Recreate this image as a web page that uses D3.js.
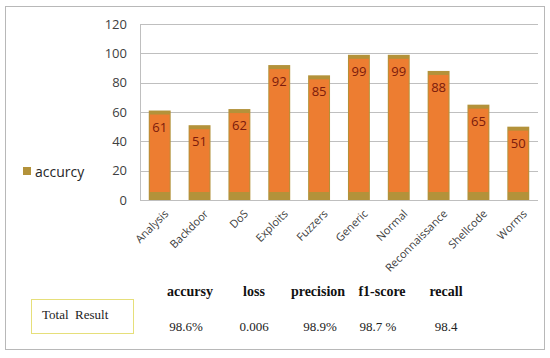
<!DOCTYPE html>
<html>
<head>
<meta charset="utf-8">
<script src="https://cdn.jsdelivr.net/npm/d3@7"></script>
<style>
  body { margin: 0; background: #fff; }
  svg { display: block; }
</style>
</head>
<body>
<div class="graph-pane"></div>
<script>
// chart values
var categories = ["Analysis", "Backdoor", "DoS", "Exploits", "Fuzzers", "Generic", "Normal", "Reconnaissance", "Shellcode", "Worms"];
var accurcy = [61, 51, 62, 92, 85, 99, 99, 88, 65, 50];
var yTicks = [0, 20, 40, 60, 80, 100, 120];
var metricNames = ["accursy", "loss", "precision", "f1-score", "recall"];
var metricValues = ["98.6%", "0.006", "98.9%", "98.7 %", "98.4"];
var seriesName = "accurcy";
var resultLabel = "Total  Result";

var width = 550, height = 358;
var plot = {left: 140, right: 538, top: 24, bottom: 200};
var sansFont = "'Open Sans', 'Liberation Sans', sans-serif";
var serifFont = "'Liberation Serif', 'DejaVu Serif', serif";

var svg = d3.select('.graph-pane')
  .append('svg')
  .attr('width', width)
  .attr('height', height);

// outer frame
svg.append('rect')
  .attr('x', 5.5).attr('y', 6.5)
  .attr('width', 539).attr('height', 343)
  .attr('fill', '#fff')
  .attr('stroke', '#b8b8b8')
  .attr('stroke-width', 1);

var xScale = d3.scaleBand()
  .domain(categories)
  .range([plot.left, plot.right])
  .paddingInner(0.45)
  .paddingOuter(0.22);

var yScale = d3.scaleLinear()
  .domain([0, 120])
  .range([plot.bottom, plot.top]);

// gridlines
svg.append('g')
  .selectAll('line')
  .data(yTicks)
  .join('line')
  .attr('x1', plot.left).attr('x2', plot.right)
  .attr('y1', d => Math.round(yScale(d)) + 0.5)
  .attr('y2', d => Math.round(yScale(d)) + 0.5)
  .attr('stroke', '#bfbfbf')
  .attr('stroke-width', 1);

// vertical axis line
svg.append('line')
  .attr('x1', plot.left + 0.5).attr('x2', plot.left + 0.5)
  .attr('y1', plot.top).attr('y2', plot.bottom)
  .attr('stroke', '#bfbfbf');

// y axis labels
var yAxis = d3.axisLeft(yScale).tickValues(yTicks).tickSize(0).tickPadding(13);
var yG = svg.append('g')
  .attr('transform', 'translate(' + plot.left + ',0)')
  .call(yAxis);
yG.select('.domain').remove();
yG.selectAll('text')
  .style('font-family', sansFont)
  .style('font-size', '13px')
  .attr('fill', '#404040');

// bars: olive outer with orange inner
var bars = svg.append('g')
  .selectAll('g')
  .data(categories.map((c, i) => ({cat: c, val: accurcy[i]})))
  .join('g');

bars.append('rect')
  .attr('x', d => xScale(d.cat))
  .attr('y', d => yScale(d.val))
  .attr('width', xScale.bandwidth())
  .attr('height', d => yScale(0) - yScale(d.val))
  .attr('fill', '#b3923a');

bars.append('rect')
  .attr('x', d => xScale(d.cat) + 1)
  .attr('y', d => yScale(d.val) + 4)
  .attr('width', xScale.bandwidth() - 2)
  .attr('height', d => yScale(0) - yScale(d.val) - 12)
  .attr('fill', '#ed7d31');

bars.append('text')
  .attr('x', d => xScale(d.cat) + xScale.bandwidth() / 2)
  .attr('y', d => yScale(d.val) + 21)
  .attr('text-anchor', 'middle')
  .style('font-family', sansFont)
  .style('font-size', '13px')
  .attr('fill', '#7b1a0c')
  .text(d => d.val);

// x axis line
svg.append('line')
  .attr('x1', plot.left).attr('x2', plot.right)
  .attr('y1', plot.bottom + 0.5).attr('y2', plot.bottom + 0.5)
  .attr('stroke', '#bfbfbf');

// x labels rotated
svg.append('g')
  .selectAll('text')
  .data(categories)
  .join('text')
  .attr('transform', d => 'translate(' + (xScale(d) + xScale.bandwidth() / 2 + 4) + ',' + (plot.bottom + 9) + ') rotate(-45)')
  .attr('text-anchor', 'end')
  .attr('dy', '0.7em')
  .style('font-family', sansFont)
  .style('font-size', '11px')
  .attr('fill', '#404040')
  .text(d => d);

// legend
svg.append('rect')
  .attr('x', 23).attr('y', 167)
  .attr('width', 8).attr('height', 8)
  .attr('fill', '#b3923a');
svg.append('text')
  .attr('x', 35).attr('y', 177)
  .style('font-family', sansFont)
  .style('font-size', '14px')
  .attr('fill', '#262626')
  .text(seriesName);

// result table
svg.append('rect')
  .attr('x', 31.5).attr('y', 299.5)
  .attr('width', 102).attr('height', 34)
  .attr('fill', 'none')
  .attr('stroke', '#e6df7a')
  .attr('stroke-width', 1);
svg.append('text')
  .attr('x', 42).attr('y', 319)
  .style('font-family', serifFont)
  .style('font-size', '13px')
  .style('white-space', 'pre')
  .attr('fill', '#222')
  .text(resultLabel);

var colX = d3.scalePoint()
  .domain(metricNames)
  .range([190, 446]);
var valueShift = [-4, 0, 2, -4, 0];

svg.append('g')
  .selectAll('text')
  .data(metricNames)
  .join('text')
  .attr('x', d => colX(d))
  .attr('y', 296)
  .attr('text-anchor', 'middle')
  .style('font-family', serifFont)
  .style('font-size', '14px')
  .style('font-weight', 'bold')
  .attr('fill', '#111')
  .text(d => d);

svg.append('g')
  .selectAll('text')
  .data(metricValues)
  .join('text')
  .attr('x', (d, i) => colX(metricNames[i]) + valueShift[i])
  .attr('y', 331)
  .attr('text-anchor', 'middle')
  .style('font-family', serifFont)
  .style('font-size', '13px')
  .attr('fill', '#222')
  .text(d => d);
</script>
</body>
</html>
